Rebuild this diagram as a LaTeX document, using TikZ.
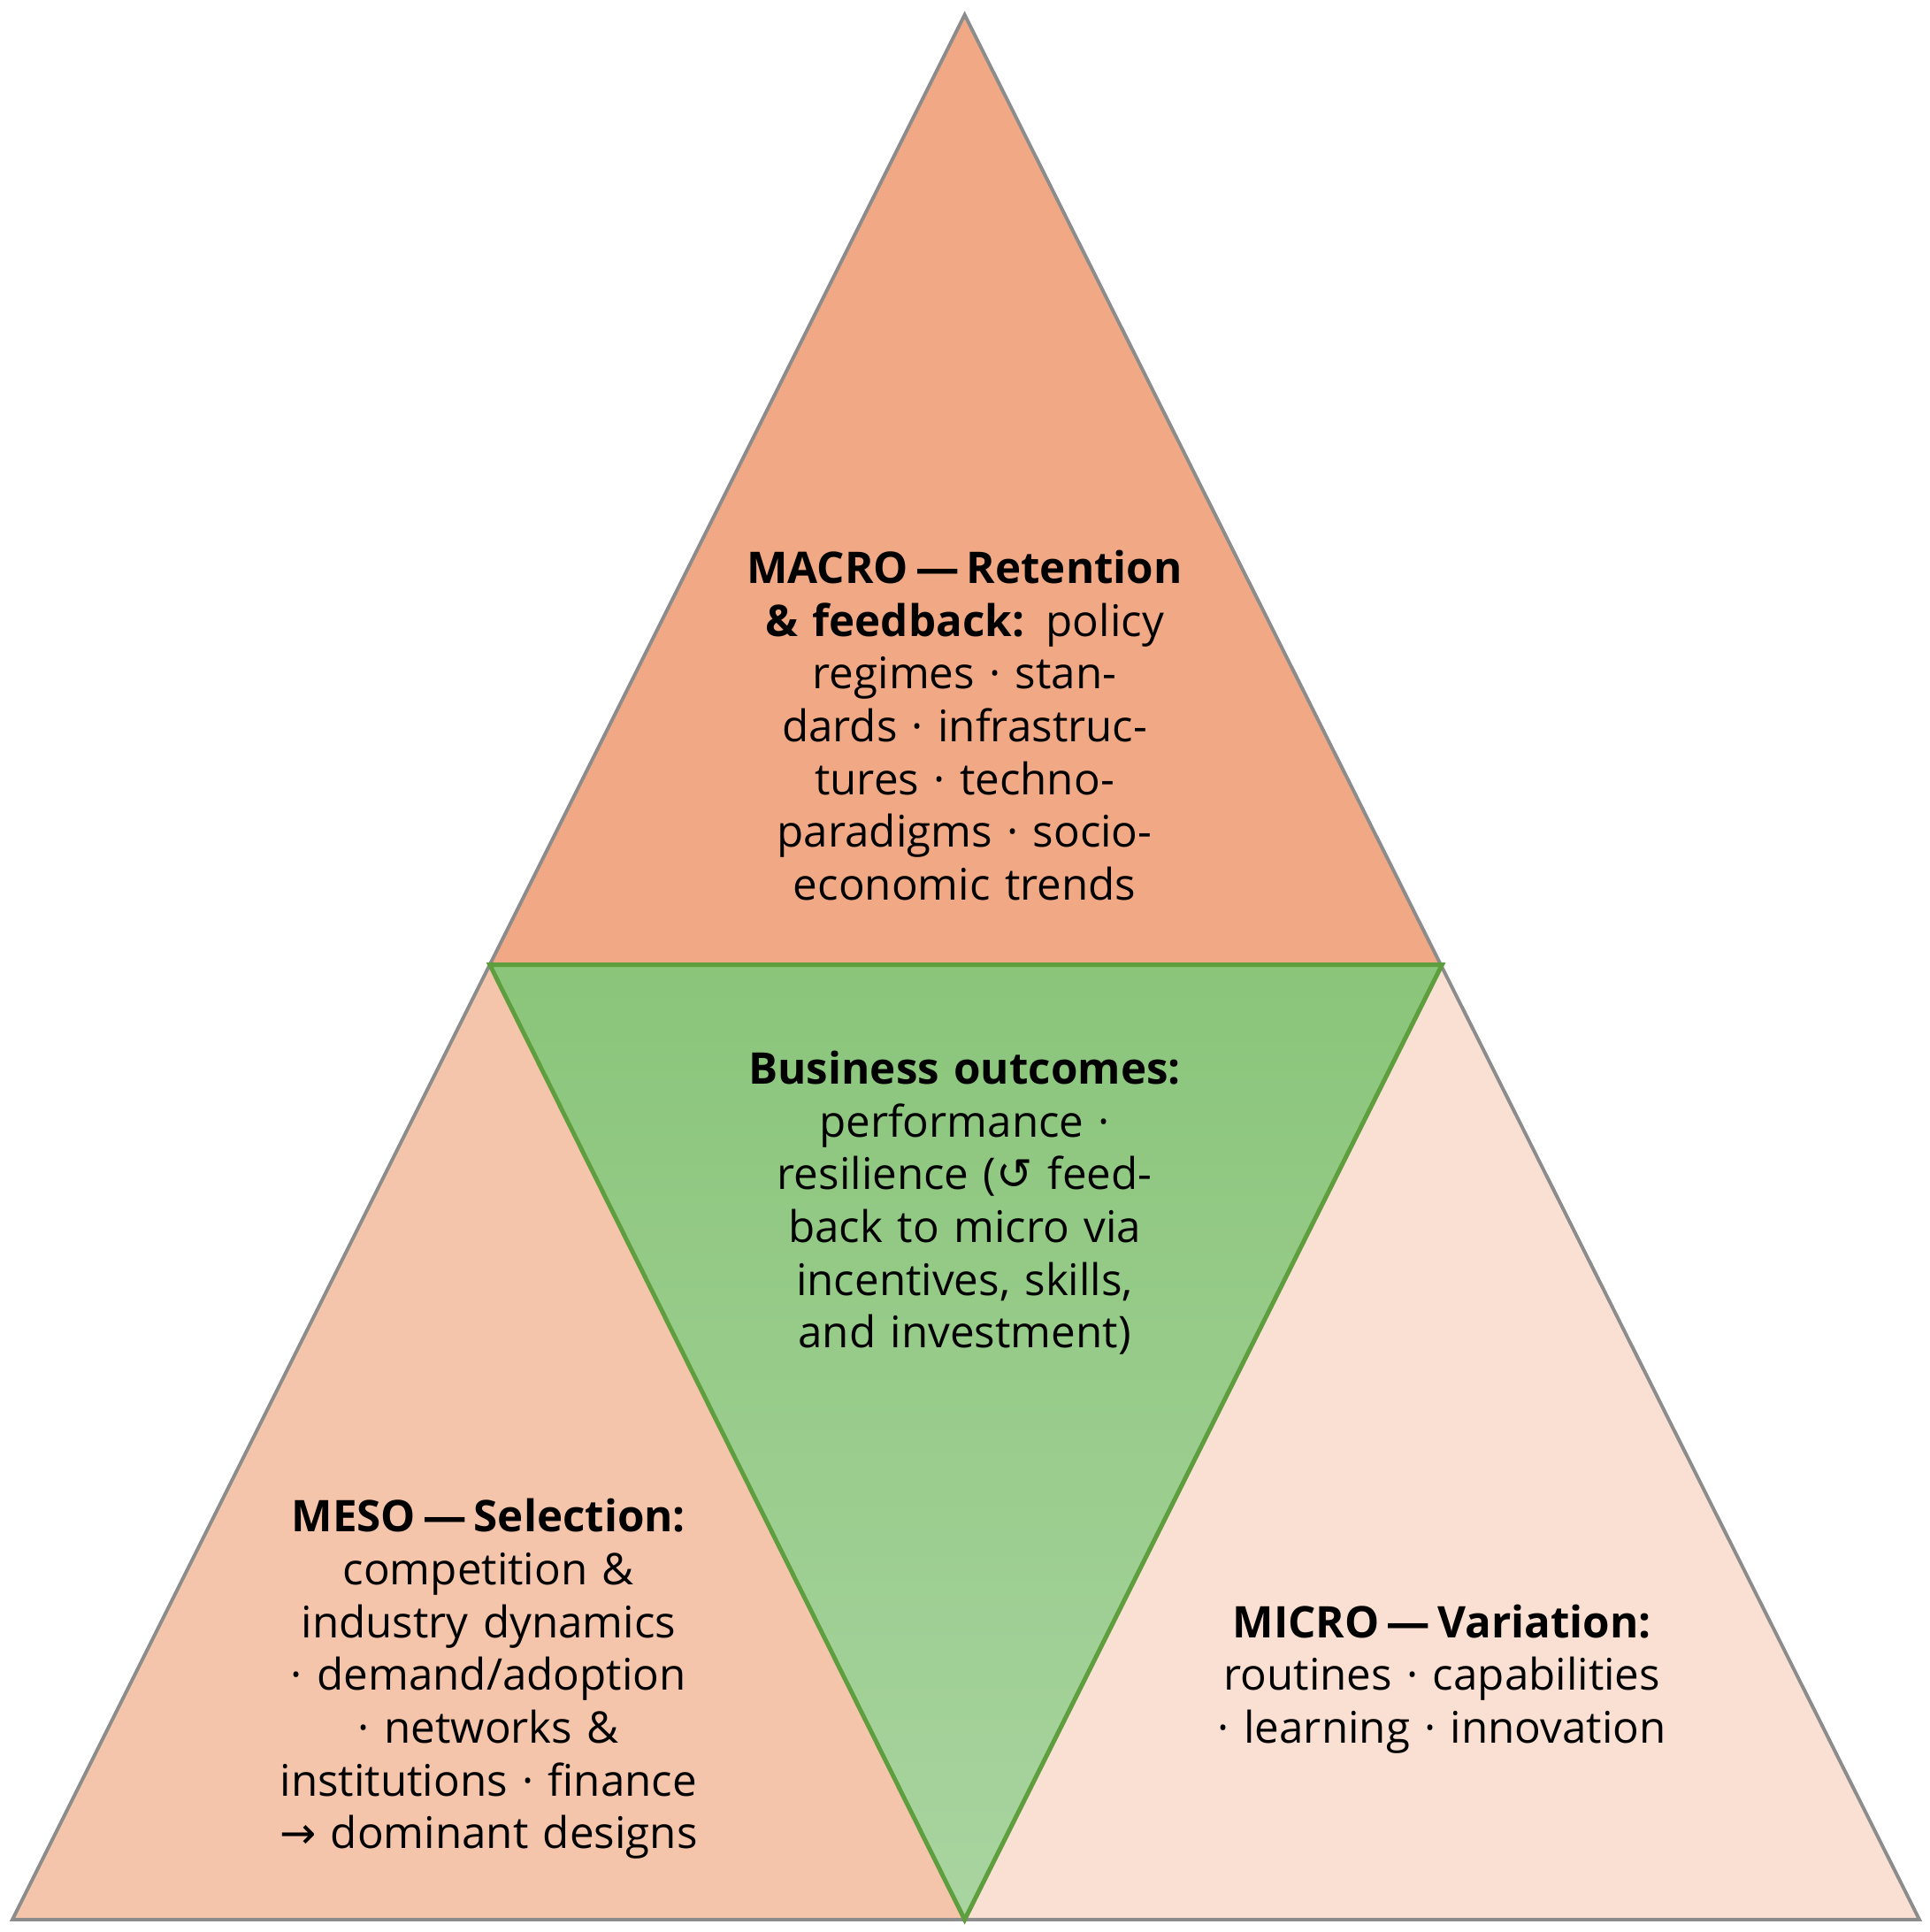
\documentclass[tikz,border=0pt]{standalone}
\usepackage{fontspec}
\setmainfont{Open Sans}
\newfontfamily\symf{DejaVu Sans}
\usetikzlibrary{positioning}
\definecolor{macrofill}{HTML}{F0A984}
\definecolor{mesofill}{HTML}{F4C5AB}
\definecolor{microfill}{HTML}{FAE0D3}
\definecolor{greentop}{HTML}{8AC57A}
\definecolor{greenbot}{HTML}{A9D4A0}
\definecolor{greenline}{HTML}{5E9E3F}
\definecolor{edgegray}{HTML}{8C8C8C}
\tikzset{
  tri/.style={draw=edgegray, line width=0.8pt},
  lbl/.style={align=center, text width=3.7cm, inner sep=0pt,
    font=\fontsize{10}{12.1}\selectfont}
}
\begin{document}
\begin{tikzpicture}[x=0.01cm, y=-0.01cm]
\useasboundingbox (0,0) rectangle (1556,1558);
% corners
\coordinate (top) at (778,12);
\coordinate (ml) at (395,778);
\coordinate (mr) at (1163,778);
\coordinate (bl) at (10,1548);
\coordinate (bm) at (778,1548);
\coordinate (br) at (1548,1548);
% outer triangles
\fill[macrofill] (top) -- (mr) -- (ml) -- cycle;
\fill[mesofill] (ml) -- (bm) -- (bl) -- cycle;
\fill[microfill] (mr) -- (br) -- (bm) -- cycle;
\draw[tri] (top) -- (br) -- (bl) -- cycle;
% inner triangle
\shade[top color=greentop, bottom color=greenbot] (ml) -- (mr) -- (bm) -- cycle;
\draw[draw=greenline, line width=1pt] (ml) -- (mr) -- (bm) -- cycle;
% labels
\node[lbl] (macro) at (778,585)
  {\textbf{MACRO\,---\,Retention \& feedback:} policy regimes · standards · infrastructures · techno-paradigms · socio-economic trends};
\node[lbl] (center) at (778,970)
  {\textbf{Business outcomes:} performance · resilience ({\symf ↺} feedback to micro via incentives, skills, and investment)};
\node[lbl, text width=3.5cm] (meso) at (394,1354)
  {\textbf{MESO\,---\,Selection:} competition \& industry dynamics · demand/adoption · networks \& institutions · finance {\symf →} dominant designs};
\node[lbl] (micro) at (1163,1354)
  {\textbf{MICRO\,---\,Variation:} routines · capabilities · learning · innovation};
\end{tikzpicture}
\end{document}
